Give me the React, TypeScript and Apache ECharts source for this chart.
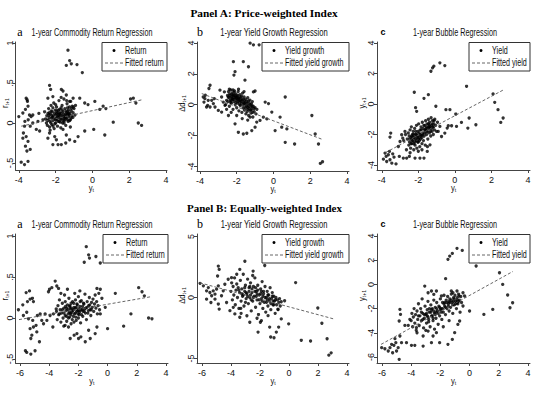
import React, { useEffect, useRef } from "react";
import * as echarts from "echarts";

// ---------- data ----------
const headerTexts = ["Panel A: Price-weighted Index", "Panel B: Equally-weighted Index"];
const panelLetters = ["a", "b", "c", "a", "b", "c"];
const panelTitles = [
  "1-year Commodity Return Regression",
  "1-year Yield Growth Regression",
  "1-year Bubble Regression",
  "1-year Commodity Return Regression",
  "1-year Yield Growth Regression",
  "1-year Bubble Regression",
];
const legendDots = ["Return", "Yield growth", "Yield", "Return", "Yield growth", "Yield"];
const legendLines = ["Fitted return", "Fitted yield growth", "Fitted yield", "Fitted return", "Fitted yield growth", "Fitted yield"];
const yNames = [["r", "t+1"], ["Δd", "t+1"], ["y", "t+1"], ["r", "t+1"], ["Δd", "t+1"], ["y", "t+1"]];

const xTicksA = [-4, -2, 0, 2, 4];
const xTicksB = [-6, -4, -2, 0, 2, 4];
const yTicksReturn = [-0.5, 0, 0.5, 1];
const yTicksA4 = [-4, -2, 0, 2, 4];
const yTicksBb = [-5, 0, 5];
const yTicksBc = [-6, -4, -2, 0, 2, 4];

const fitAa = [[-3.87, -0.04], [2.69, 0.29]];
const fitAb = [[-3.9, 0.72], [2.66, -2.25]];
const fitAc = [[-3.8, -3.19], [2.65, 0.92]];
const fitBa = [[-6.07, -0.02], [3.0, 0.26]];
const fitBb = [[-6.14, 1.2], [3.06, -1.75]];
const fitBc = [[-6.06, -4.96], [2.97, 1.07]];

const ptsAa = [
  [-1.33, 0.91], [-1.24, 0.78], [-1.15, 0.74], [-1.42, 0.72], [-0.84, 0.73], [-0.55, 0.63],
  [-4.0, 0.08], [-3.87, -0.49], [-3.69, -0.52], [-3.5, -0.48], [-3.6, 0.31], [-3.55, 0.29], [-3.5, 0.21], [-3.64, 0.17],
  [-3.78, 0.125], [-3.42, 0.1], [-3.33, 0.08], [-3.24, 0.1], [-3.69, -0.04], [-3.75, -0.125], [-3.6, -0.17], [-3.5, -0.23],
  [-3.64, -0.29], [-3.56, -0.35], [-3.38, -0.33], [-3.78, -0.19], [-3.38, -0.04], [-3.24, 0], [-3.49, 0.04], [-3.67, 0.02], [-3.53, 0.27],
  [-3.05, -0.08], [-2.87, -0.1], [-2.96, 0.02], [-2.69, 0.04], [-2.91, 0.12],
  [-2.33, 0.47], [-2.27, 0.42], [-2.42, 0.31], [-2.15, 0.33], [-1.69, 0.42], [-1.6, 0.4], [-1.42, 0.35], [-1.24, 0.27],
  [-1.05, 0.31], [-0.69, 0.31], [-0.42, 0.25], [-0.24, 0.23], [0.13, 0.27], [0.4, 0.17], [0.58, 0.21], [0.73, 0.18],
  [2.22, 0.31], [2.07, 0.3], [2.36, 0.25], [2.49, 0.0], [2.67, -0.03], [1.13, 0.01], [0.07, -0.08], [-0.42, -0.1], [0.67, -0.15],
  [-2.33, -0.125], [-2.05, -0.17], [-1.87, -0.27], [-1.96, -0.21], [-1.69, -0.27], [-1.45, -0.25], [-1.24, -0.21],
  [-0.96, -0.23], [-0.78, -0.17], [-2.15, -0.27], [-2.42, -0.19], [-1.42, -0.15],
  [-2.55, 0.05], [-2.5, 0.0], [-2.48, 0.09], [-2.45, -0.03], [-2.42, 0.12], [-2.4, 0.04], [-2.38, 0.18], [-2.35, 0.07],
  [-2.33, -0.05], [-2.3, 0.02], [-2.28, 0.11], [-2.25, 0.22], [-2.22, 0.06], [-2.2, -0.02], [-2.18, 0.14], [-2.15, 0.03],
  [-2.12, 0.09], [-2.1, 0.25], [-2.08, -0.07], [-2.05, 0.05], [-2.02, 0.16], [-2.0, 0.0], [-1.98, 0.1], [-1.95, 0.2],
  [-1.92, 0.04], [-1.9, -0.04], [-1.88, 0.13], [-1.85, 0.07], [-1.82, 0.28], [-1.8, 0.02], [-1.78, 0.17], [-1.75, 0.09],
  [-1.72, -0.06], [-1.7, 0.12], [-1.68, 0.05], [-1.65, 0.22], [-1.62, 0.0], [-1.6, 0.14], [-1.58, 0.08], [-1.55, 0.3],
  [-1.52, 0.03], [-1.5, 0.18], [-1.48, 0.1], [-1.45, -0.03], [-1.42, 0.13], [-1.4, 0.06], [-1.38, 0.24], [-1.35, 0.11],
  [-1.32, 0.02], [-1.3, 0.16], [-1.28, 0.08], [-1.25, 0.2], [-1.22, 0.12], [-1.2, 0.04], [-1.18, 0.27], [-1.15, 0.15],
  [-1.12, 0.09], [-1.1, 0.21], [-1.05, 0.13], [-1.0, 0.18], [-0.95, 0.1], [-0.92, 0.22], [-2.6, 0.14], [-2.0, 0.23],
  [-1.7, 0.32], [-1.4, 0.28], [-2.3, -0.09], [-1.6, -0.08], [-1.2, -0.05], [-1.95, 0.12], [-1.75, 0.01], [-1.55, 0.06],
  [-2.15, 0.19], [-1.85, 0.16], [-1.35, 0.19],
  [-2.44, 0.03], [-2.36, 0.1], [-2.26, 0.0], [-2.24, 0.15], [-2.16, 0.07], [-2.06, 0.12], [-2.04, -0.01], [-1.96, 0.06],
  [-1.94, 0.15], [-1.86, 0.02], [-1.84, 0.1], [-1.76, 0.13], [-1.74, 0.05], [-1.66, 0.09], [-1.64, 0.16], [-1.56, 0.11],
  [-1.54, 0.0], [-1.46, 0.07], [-1.44, 0.15], [-1.36, 0.04], [-1.34, 0.14], [-1.26, 0.1], [-1.24, 0.03], [-1.16, 0.06],
  [-1.14, 0.18], [-1.06, 0.07], [-1.04, 0.2], [-2.34, 0.13], [-2.14, -0.04], [-1.9, 0.08], [-1.7, 0.19], [-1.5, 0.05],
  [-1.3, 0.12], [-2.2, 0.09], [-2.0, 0.04], [-1.8, 0.11], [-1.6, 0.03], [-1.4, 0.1],
];

const ptsAb = [
  [-1.27, 3.99], [-1.09, 3.88], [-0.78, 3.88], [-1.36, 2.46], [-1.64, 2.79], [-2.18, 2.79], [-2.09, 2.14], [-2.15, 1.92],
  [-1.55, 1.59], [-1.09, 0.83], [-1.0, 0.89],
  [-3.82, 0.5], [-3.73, 0.39], [-3.64, -0.15], [-3.55, 0.28], [-3.45, 1.26], [-3.51, 1.05], [-3.36, 0.28], [-3.27, 0.07],
  [-3.58, -0.04], [-3.45, -0.15], [-3.18, -0.15], [-3.78, 0.17], [-3.71, 0.61], [-3.22, 0.39],
  [-2.91, 0.94], [-2.82, 0.5], [-2.73, 0.17], [-2.64, -0.04], [-3.0, -0.37], [-2.82, -0.48], [-2.55, 0.28], [-2.45, -0.7], [-2.67, 0.83],
  [-2.09, -1.24], [-1.91, -1.79], [-1.64, -1.9], [-1.45, -1.85], [-1.18, -1.68], [-1.0, -1.46], [-0.73, -1.02], [-0.55, -0.81],
  [-0.36, -0.92], [-0.45, 0.17], [-0.27, 0.07], [-0.09, -0.48], [0.09, -1.68], [0.36, -0.81], [0.45, -1.46], [0.64, 0.5],
  [0.73, -1.57], [0.64, -2.44], [1.15, -2.55], [2.09, -0.7], [2.27, -1.9], [2.45, -2.55], [2.55, -3.81], [2.67, -3.7],
  [-0.91, -1.13], [-1.27, -0.81],
  [-2.5, 0.6], [-2.48, 0.2], [-2.45, 0.85], [-2.42, 0.45], [-2.4, -0.1], [-2.38, 0.7], [-2.35, 0.3], [-2.32, 0.95],
  [-2.3, 0.5], [-2.28, 0.1], [-2.25, 0.75], [-2.22, 0.35], [-2.2, -0.3], [-2.18, 0.6], [-2.15, 0.2], [-2.12, 0.9],
  [-2.1, 0.45], [-2.08, 0.0], [-2.05, 0.7], [-2.02, 0.3], [-2.0, -0.2], [-1.98, 0.55], [-1.95, 0.1], [-1.92, 0.85],
  [-1.9, 0.4], [-1.88, -0.4], [-1.85, 0.25], [-1.82, 0.65], [-1.8, -0.05], [-1.78, 0.45], [-1.75, 0.1], [-1.72, -0.5],
  [-1.7, 0.3], [-1.68, 0.75], [-1.65, -0.2], [-1.62, 0.15], [-1.6, 0.5], [-1.58, -0.35], [-1.55, 0.05], [-1.52, 0.35],
  [-1.5, -0.6], [-1.48, -0.1], [-1.45, 0.2], [-1.42, -0.3], [-1.4, 0.45], [-1.38, -0.05], [-1.35, -0.7], [-1.32, 0.1],
  [-1.3, -0.4], [-1.28, 0.3], [-1.25, -0.15], [-1.22, -0.55], [-1.2, 0.05], [-1.18, -0.3], [-1.15, 0.2], [-1.12, -0.8],
  [-1.1, -0.1], [-1.05, -0.45], [-1.0, -0.2], [-0.95, -0.6], [-0.9, -0.3], [-2.6, 0.0], [-2.55, -0.3], [-2.3, -0.5],
  [-2.0, -0.7], [-1.7, -0.9], [-1.4, -1.0], [-2.2, 0.95], [-1.9, 1.0], [-1.6, 0.85], [-2.4, 1.0],
  [-2.46, 0.5], [-2.36, 0.6], [-2.34, 0.15], [-2.26, 0.4], [-2.24, 0.65], [-2.16, 0.35], [-2.14, 0.8], [-2.06, 0.5],
  [-2.04, 0.15], [-1.96, 0.35], [-1.94, 0.6], [-1.86, 0.45], [-1.84, 0.0], [-1.76, 0.2], [-1.74, 0.55], [-1.66, 0.35],
  [-1.64, 0.0], [-1.56, 0.25], [-1.54, -0.2], [-1.46, 0.1], [-1.44, -0.45], [-1.36, 0.25], [-1.34, -0.25], [-1.26, 0.0],
  [-1.24, -0.35], [-1.16, -0.1], [-1.14, -0.5], [-1.06, -0.25], [-2.2, 0.55], [-2.0, 0.45], [-1.8, 0.3], [-1.6, 0.1],
  [-1.4, -0.15], [-2.3, 0.25], [-2.1, 0.6], [-1.9, 0.2],
];

const ptsAc = [
  [-1.31, 2.15], [-1.22, 2.37], [-1.15, 2.48], [-0.82, 2.7], [-0.55, 2.52], [0.64, 1.16], [-2.22, 0.77], [-1.69, 0.37],
  [-1.45, 0.61], [-2.15, -0.24], [-2.09, -0.48], [-1.04, -0.15], [-0.49, -0.37], [-0.27, -0.37], [0.05, -0.66], [0.78, -0.92],
  [0.71, -1.58], [1.15, -1.36], [0.36, -1.21], [0.09, -1.47], [-0.18, -1.43], [-0.42, -1.58], [2.09, 0.66], [2.18, 0.11],
  [2.36, -0.37], [2.51, -1.21], [2.64, -0.92],
  [-3.91, -3.62], [-3.76, -3.44], [-3.64, -3.33], [-3.55, -3.66], [-3.45, -3.88], [-3.33, -3.49], [-3.73, -3.77], [-3.58, -3.11],
  [-3.4, -3.27], [-3.51, -1.91], [-3.55, -2.17], [-3.22, -3.93], [-3.82, -3.22],
  [-3.09, -2.79], [-3.0, -2.46], [-2.91, -2.02], [-2.82, -3.55], [-2.64, -3.55], [-2.49, -3.44], [-3.04, -3.44], [-2.73, -1.8], [-2.85, -2.24],
  [-2.18, -3.55], [-1.91, -3.55], [-1.69, -3.55], [-1.51, -3.11], [-1.36, -2.68],
  [-0.91, -1.8], [-0.73, -2.13], [-0.55, -1.91], [-0.82, -1.47], [-0.36, -1.43],
  [-2.6, -2.3], [-2.55, -1.9], [-2.52, -2.7], [-2.5, -2.1], [-2.48, -2.5], [-2.45, -1.7], [-2.42, -2.9], [-2.4, -2.2],
  [-2.38, -1.5], [-2.35, -2.6], [-2.32, -2.0], [-2.3, -2.4], [-2.28, -1.8], [-2.25, -3.0], [-2.22, -2.2], [-2.2, -1.6],
  [-2.18, -2.7], [-2.15, -2.0], [-2.12, -2.4], [-2.1, -1.4], [-2.08, -2.9], [-2.05, -2.1], [-2.02, -1.8], [-2.0, -2.5],
  [-1.98, -1.3], [-1.95, -2.2], [-1.92, -2.8], [-1.9, -1.7], [-1.88, -2.3], [-1.85, -1.5], [-1.82, -2.0], [-1.8, -2.6],
  [-1.78, -1.2], [-1.75, -1.9], [-1.72, -2.4], [-1.7, -1.4], [-1.68, -2.1], [-1.65, -1.7], [-1.62, -2.7], [-1.6, -1.1],
  [-1.58, -1.6], [-1.55, -2.0], [-1.52, -1.3], [-1.5, -1.8], [-1.48, -2.3], [-1.45, -1.0], [-1.42, -1.5], [-1.4, -1.9],
  [-1.38, -1.2], [-1.35, -1.6], [-1.32, -2.1], [-1.3, -0.9], [-1.28, -1.4], [-1.25, -1.8], [-1.22, -1.1], [-1.2, -1.5],
  [-1.18, -2.0], [-1.15, -1.3], [-1.12, -1.7], [-1.1, -1.0], [-1.05, -1.4], [-1.0, -1.8], [-0.95, -1.2], [-2.65, -3.0],
  [-2.45, -3.2], [-2.0, -3.1], [-1.8, -3.0], [-1.5, -2.8], [-2.8, -2.4], [-2.7, -2.0],
  [-2.46, -2.3], [-2.36, -2.1], [-2.34, -2.4], [-2.26, -2.0], [-2.24, -2.6], [-2.16, -2.3], [-2.14, -1.8], [-2.06, -2.2],
  [-2.04, -2.5], [-1.96, -1.9], [-1.94, -2.4], [-1.86, -2.1], [-1.84, -1.7], [-1.76, -2.0], [-1.74, -1.6], [-1.66, -1.9],
  [-1.64, -1.4], [-1.56, -1.8], [-1.54, -1.5], [-1.46, -1.6], [-1.44, -1.3], [-1.36, -1.5], [-1.34, -1.8], [-1.26, -1.6],
  [-1.24, -1.3], [-1.16, -1.5], [-1.14, -1.1], [-2.4, -2.6], [-2.2, -2.5], [-2.0, -2.3], [-1.8, -2.2], [-1.6, -1.7],
  [-1.4, -1.4], [-2.3, -2.2], [-2.1, -2.0], [-1.9, -2.0],
];

const ptsBa = [
  [-1.46, 0.87], [-1.3, 0.77], [-1.24, 0.73], [-0.8, 0.75], [-1.6, 0.68], [-0.5, 0.67],
  [-6.11, 0.1], [-5.81, 0.16], [-5.54, 0.07], [-5.58, 0.31], [-5.35, 0.33], [-5.31, 0.23], [-5.15, 0.24], [-5.49, 0.2],
  [-5.08, 0.2], [-5.63, -0.4], [-5.54, -0.42], [-5.26, -0.44], [-4.97, -0.4], [-5.26, -0.25], [-5.19, -0.21], [-5.31, -0.13],
  [-5.08, -0.11], [-4.9, -0.09], [-4.67, -0.29], [-4.85, -0.17], [-5.13, -0.03], [-4.81, 0.03], [-4.62, 0.05], [-5.42, -0.01], [-5.77, 0.03],
  [-4.39, -0.07], [-4.16, -0.03], [-4.05, 0.32], [-3.98, 0.35], [-3.82, 0.37], [-3.94, 0.03], [-3.71, 0.05], [-3.59, 0.45],
  [-3.48, 0.39], [-3.36, 0.36], [-3.52, 0.11], [-3.75, -0.11], [-4.28, 0.05], [-4.51, -0.03],
  [-2.91, -0.09], [-2.68, -0.11], [-2.56, -0.25], [-2.29, -0.21], [-2.1, -0.19], [-1.99, -0.25], [-1.83, -0.23], [-1.53, -0.29],
  [-1.19, -0.25], [-0.85, -0.19], [-0.73, -0.11], [-1.3, -0.15],
  [-0.73, 0.36], [-0.5, 0.35], [-0.39, 0.24], [0.53, 0.3], [0.0, -0.13], [1.6, 0.05], [1.1, -0.1], [2.13, 0.37],
  [2.36, 0.32], [2.52, 0.27], [2.81, 0.0], [3.04, -0.01], [-0.16, 0.13], [-0.5, 0.05],
  [-3.5, 0.08], [-3.45, -0.02], [-3.4, 0.15], [-3.35, 0.04], [-3.3, 0.22], [-3.25, 0.1], [-3.2, -0.05], [-3.15, 0.06],
  [-3.1, 0.18], [-3.05, 0.0], [-3.0, 0.12], [-2.95, 0.28], [-2.9, 0.03], [-2.85, 0.09], [-2.8, -0.04], [-2.75, 0.16],
  [-2.7, 0.05], [-2.65, 0.24], [-2.6, 0.01], [-2.55, 0.11], [-2.5, -0.07], [-2.45, 0.07], [-2.4, 0.2], [-2.35, 0.02],
  [-2.3, 0.13], [-2.25, 0.3], [-2.2, 0.06], [-2.15, -0.03], [-2.1, 0.17], [-2.05, 0.09], [-2.0, 0.26], [-1.95, 0.04],
  [-1.9, 0.14], [-1.85, -0.06], [-1.8, 0.21], [-1.75, 0.1], [-1.7, 0.02], [-1.65, 0.18], [-1.6, 0.08], [-1.55, 0.29],
  [-1.5, 0.12], [-1.45, -0.02], [-1.4, 0.2], [-1.35, 0.06], [-1.3, 0.15], [-1.25, 0.25], [-1.2, 0.1], [-1.15, 0.03],
  [-1.1, 0.19], [-1.05, 0.13], [-1.0, 0.23], [-0.95, 0.08], [-0.9, 0.17], [-0.85, 0.28], [-0.8, 0.12], [-0.75, 0.2],
  [-0.7, 0.05], [-0.65, 0.15], [-0.6, 0.3], [-0.55, 0.1], [-2.9, 0.2], [-2.6, 0.14], [-2.3, -0.05], [-2.0, 0.0],
  [-3.2, 0.3], [-3.0, -0.1], [-2.75, 0.35], [-2.5, 0.18], [-2.2, 0.22], [-1.9, 0.33],
  [-3.3, 0.05], [-3.1, 0.1], [-2.98, 0.06], [-2.88, 0.14], [-2.82, 0.02], [-2.72, 0.1], [-2.68, 0.0], [-2.62, 0.07],
  [-2.58, 0.15], [-2.52, 0.04], [-2.48, 0.12], [-2.42, -0.02], [-2.38, 0.09], [-2.32, 0.18], [-2.28, 0.05], [-2.22, 0.12],
  [-2.18, 0.01], [-2.12, 0.08], [-2.08, 0.16], [-2.02, 0.05], [-1.98, 0.11], [-1.92, 0.07], [-1.88, 0.2], [-1.82, 0.1],
  [-1.78, 0.04], [-1.72, 0.14], [-1.68, 0.08], [-1.62, 0.17], [-1.58, 0.11], [-1.52, 0.06], [-1.42, 0.13], [-1.32, 0.09],
  [-1.22, 0.16], [-1.12, 0.1], [-2.8, 0.12], [-2.55, 0.06], [-2.35, 0.1], [-2.15, 0.13], [-1.95, 0.09],
];

const ptsBb = [
  [-3.04, 2.97], [-1.67, 2.62], [-4.87, 2.57], [-4.81, 2.3], [-4.92, 1.76], [-3.39, 2.3], [-2.47, 2.16], [0.46, 1.22],
  [-6.13, 1.16], [-5.9, 0.95], [-5.68, 0.54], [-5.56, 0.81], [-5.45, 0.41], [-5.33, 0.14], [-5.22, 0.54], [-5.1, 0.27],
  [-4.99, 0.68], [-4.87, 0.95], [-5.68, -0.14], [-5.38, -0.41], [-4.87, -0.54], [-4.81, -0.95], [-5.1, -0.14], [-4.65, 0.14],
  [-4.53, 0.54], [-4.3, -0.41], [-4.42, 1.08], [-4.19, 1.49], [-3.96, 1.62], [-4.07, -1.08], [-3.84, -0.81], [-3.73, -1.35],
  [-3.39, -1.62], [-3.32, -0.89],
  [-2.7, -2.03], [-2.13, -2.84], [-1.97, -2.03], [-1.33, -2.43], [-1.26, -3.24], [-1.03, -3.3], [-0.87, -2.84], [-0.71, -2.43],
  [-0.53, -1.76], [-1.44, -1.49], [-0.02, -2.16], [-0.53, -0.35], [-0.3, -0.27], [-0.76, -0.95], [0.85, -3.51], [1.49, -3.57],
  [1.99, -0.86], [2.27, -2.11], [2.63, -3.38], [2.75, -4.73], [2.91, -4.54],
  [-4.0, 0.5], [-3.95, 1.2], [-3.9, -0.2], [-3.85, 0.9], [-3.8, 0.2], [-3.75, 1.6], [-3.7, -0.6], [-3.65, 0.6],
  [-3.6, 1.1], [-3.55, 0.0], [-3.5, 0.8], [-3.45, -0.9], [-3.4, 0.4], [-3.35, 1.4], [-3.3, -0.3], [-3.25, 0.7],
  [-3.2, 0.1], [-3.15, 1.9], [-3.1, -0.7], [-3.05, 0.5], [-3.0, 1.0], [-2.95, -0.1], [-2.9, 0.3], [-2.85, 1.5],
  [-2.8, -0.5], [-2.75, 0.8], [-2.7, 0.0], [-2.65, 1.2], [-2.6, -1.1], [-2.55, 0.4], [-2.5, -0.3], [-2.45, 0.9],
  [-2.4, 0.1], [-2.35, 1.6], [-2.3, -0.8], [-2.25, 0.5], [-2.2, -0.2], [-2.15, 1.0], [-2.1, -1.4], [-2.05, 0.2],
  [-2.0, -0.5], [-1.95, 0.7], [-1.9, -0.1], [-1.85, 1.3], [-1.8, -0.9], [-1.75, 0.3], [-1.7, -0.4], [-1.65, 0.9],
  [-1.6, -1.2], [-1.55, 0.0], [-1.5, 0.5], [-1.45, -0.7], [-1.4, 0.2], [-1.35, -0.3], [-1.3, 0.8], [-1.25, -1.0],
  [-1.2, -0.1], [-1.15, 0.4], [-1.1, -0.6], [-1.05, 0.1], [-1.0, -0.3], [-0.95, -1.3], [-0.9, 0.0], [-0.85, -0.6],
  [-0.8, -0.2], [-0.75, -1.0], [-0.7, -0.4], [-0.65, -0.1], [-0.6, -0.7], [-3.3, -1.3], [-2.9, -1.5], [-2.2, -1.7],
  [-1.9, -1.9], [-3.6, 1.9], [-2.5, 1.8],
  [-3.45, 0.6], [-3.25, 0.3], [-3.05, 0.8], [-2.95, 0.4], [-2.85, 0.1], [-2.75, 0.5], [-2.65, 0.2], [-2.55, 0.7],
  [-2.45, 0.0], [-2.35, 0.5], [-2.25, 0.1], [-2.15, 0.6], [-2.05, -0.2], [-1.95, 0.3], [-1.85, -0.3], [-1.75, 0.5],
  [-1.65, 0.0], [-1.55, -0.4], [-1.45, 0.2], [-1.35, -0.1], [-1.25, -0.5], [-1.15, 0.1], [-1.05, -0.6], [-0.95, -0.2],
  [-3.15, 0.2], [-2.7, 0.9], [-2.3, 0.8], [-1.9, 0.5], [-1.5, -0.2], [-1.1, -0.3], [-3.0, -0.4], [-2.6, -0.2],
  [-2.2, 0.3], [-1.8, 0.1],
];

const ptsBc = [
  [-1.48, 2.07], [-1.36, 2.34], [-1.18, 2.56], [-0.86, 2.98], [-0.5, 2.81], [0.45, 1.52], [-1.64, 0.47], [2.05, 0.96],
  [2.27, 0.0], [2.61, -0.88], [2.95, -1.52], [2.77, -1.93], [1.59, -2.07], [0.98, -2.48], [0.0, -2.2],
  [-6.02, -5.23], [-5.8, -5.32], [-5.57, -5.51], [-5.45, -5.23], [-5.27, -5.65], [-5.18, -5.04], [-5.05, -4.82], [-4.89, -5.23],
  [-4.82, -6.2], [-5.0, -5.51], [-5.11, -4.49], [-4.77, -4.27], [-4.82, -3.03], [-4.77, -2.07], [-4.73, -2.48], [-4.66, -4.82], [-5.34, -4.96],
  [-4.32, -4.82], [-3.98, -5.04], [-3.75, -5.04], [-3.18, -5.1], [-2.61, -4.82], [-2.05, -4.82], [-1.48, -4.96], [-1.18, -4.55],
  [-1.02, -3.99], [-0.8, -3.31], [-0.68, -3.03], [-2.5, -4.27], [-2.27, -3.99], [-2.84, -3.86], [-3.18, -4.27], [-3.64, -3.58],
  [-4.09, -2.89], [-4.2, -3.39], [-4.43, -3.39],
  [-3.07, -0.14], [-2.84, -0.69], [-2.61, -0.55], [-2.45, -0.83], [-2.27, -0.55], [-1.93, -0.96], [-1.25, -0.55], [-1.14, -0.69],
  [-0.86, -0.55], [-0.73, -0.96], [-0.45, -0.69], [-0.34, -0.96], [-0.86, -1.52], [-0.45, -1.79],
  [-4.0, -3.0], [-3.95, -2.4], [-3.9, -3.5], [-3.85, -2.7], [-3.8, -2.0], [-3.75, -3.2], [-3.7, -2.5], [-3.65, -3.8],
  [-3.6, -2.2], [-3.55, -2.9], [-3.5, -1.6], [-3.45, -3.4], [-3.4, -2.6], [-3.35, -2.0], [-3.3, -3.0], [-3.25, -1.2],
  [-3.2, -2.4], [-3.15, -3.6], [-3.1, -2.8], [-3.05, -1.8], [-3.0, -2.5], [-2.95, -3.2], [-2.9, -2.1], [-2.85, -1.4],
  [-2.8, -2.9], [-2.75, -2.3], [-2.7, -3.5], [-2.65, -1.7], [-2.6, -2.6], [-2.55, -2.0], [-2.5, -3.0], [-2.45, -1.3],
  [-2.4, -2.4], [-2.35, -1.9], [-2.3, -2.8], [-2.25, -1.5], [-2.2, -2.2], [-2.15, -3.3], [-2.1, -1.8], [-2.05, -2.6],
  [-2.0, -1.2], [-1.95, -2.0], [-1.9, -2.9], [-1.85, -1.5], [-1.8, -2.3], [-1.75, -0.9], [-1.7, -1.8], [-1.65, -2.5],
  [-1.6, -1.3], [-1.55, -2.0], [-1.5, -1.0], [-1.45, -1.6], [-1.4, -2.2], [-1.35, -1.2], [-1.3, -1.9], [-1.25, -0.8],
  [-1.2, -1.5], [-1.15, -2.4], [-1.1, -1.1], [-1.05, -1.7], [-1.0, -0.9], [-0.95, -1.4], [-0.9, -2.0], [-0.85, -1.1],
  [-0.8, -1.6], [-0.75, -0.8], [-0.7, -1.3], [-0.65, -2.3], [-0.6, -1.0], [-0.55, -1.5], [-3.6, -4.0], [-3.0, -3.8],
  [-2.4, -3.7], [-1.8, -3.5], [-1.4, -3.0],
  [-3.5, -2.6], [-3.3, -2.3], [-3.1, -2.5], [-2.95, -2.4], [-2.85, -2.7], [-2.75, -2.0], [-2.65, -2.3], [-2.55, -2.6],
  [-2.45, -2.2], [-2.35, -2.5], [-2.25, -2.0], [-2.15, -2.4], [-2.05, -1.9], [-1.95, -2.3], [-1.85, -2.0], [-1.75, -1.6],
  [-1.65, -1.9], [-1.55, -1.5], [-1.45, -1.8], [-1.35, -1.5], [-1.25, -1.3], [-1.15, -1.7], [-1.05, -1.2], [-0.95, -1.6],
  [-0.85, -1.3], [-0.75, -1.4], [-2.9, -2.6], [-2.6, -2.1], [-2.3, -2.3], [-2.0, -2.1], [-1.7, -1.5], [-1.4, -1.4],
  [-1.1, -1.4], [-3.2, -2.9], [-2.8, -3.1], [-2.5, -2.8],
];

// ---------- layout / style ----------
const SANS = '"Liberation Sans", Arial, sans-serif';
const SERIF = '"Liberation Serif", "Times New Roman", serif';

type Panel = {
  left: number; top: number; right: number; bottom: number;
  xMin: number; xMax: number; yMin: number; yMax: number;
  xTicks: number[]; yTicks: number[]; pts: number[][]; fit: number[][];
  legendW: number; titleX: number; titleW: number; letterX: number;
};

const panels: Panel[] = [
  { left: 15.5, top: 42, right: 167, bottom: 170, xMin: -4.18, xMax: 4.05, yMin: -0.5875, yMax: 1.0125, xTicks: xTicksA, yTicks: yTicksReturn, pts: ptsAa, fit: fitAa, legendW: 65, titleX: 92, titleW: 121, letterX: 20 },
  { left: 197, top: 42, right: 349, bottom: 171, xMin: -4.16, xMax: 4.11, yMin: -4.3, yMax: 4.065, xTicks: xTicksA, yTicks: yTicksA4, pts: ptsAb, fit: fitAb, legendW: 87, titleX: 274, titleW: 108, letterX: 200 },
  { left: 377, top: 42, right: 530, bottom: 170, xMin: -4.26, xMax: 4.11, yMin: -4.33, yMax: 4.066, xTicks: xTicksA, yTicks: yTicksA4, pts: ptsAc, fit: fitAc, legendW: 61, titleX: 455, titleW: 84, letterX: 383 },
  { left: 15.5, top: 234, right: 168, bottom: 363, xMin: -6.31, xMax: 4.14, yMin: -0.549, yMax: 1.024, xTicks: xTicksB, yTicks: yTicksReturn, pts: ptsBa, fit: fitBa, legendW: 65, titleX: 92, titleW: 121, letterX: 20 },
  { left: 197, top: 234, right: 349, bottom: 363, xMin: -6.34, xMax: 4.14, yMin: -5.37, yMax: 5.2, xTicks: xTicksB, yTicks: yTicksBb, pts: ptsBb, fit: fitBb, legendW: 87, titleX: 274, titleW: 107, letterX: 200 },
  { left: 377, top: 234, right: 530, bottom: 363, xMin: -6.34, xMax: 4.14, yMin: -6.5, yMax: 4.165, xTicks: xTicksB, yTicks: yTicksBc, pts: ptsBc, fit: fitBc, legendW: 61, titleX: 455, titleW: 84, letterX: 383 },
];
const headerLayout = [{ x: 264, y: 13, w: 148 }, { x: 264.5, y: 208, w: 155 }];

const fmt = (v: number) => {
  if (v === 0) return "0";
  const s = String(Math.abs(v)).replace(/^0\./, ".");
  return (v < 0 ? "-" : "") + s;
};

const measure = (text: string, font: string) => {
  const ctx = document.createElement("canvas").getContext("2d");
  if (!ctx) return text.length * 5;
  ctx.font = font;
  return ctx.measureText(text).width;
};

const AXIS_COLOR = "#444";

export default function App() {
  const ref = useRef<HTMLDivElement>(null);
  useEffect(() => {
    const chart = echarts.init(ref.current!, null, { renderer: "svg" });
    const grid: any[] = [];
    const xAxis: any[] = [];
    const yAxis: any[] = [];
    const series: any[] = [];
    const graphic: any[] = [];

    const titleFont = `10px ${SANS}`;
    const condense = 121 / measure(panelTitles[0], titleFont);
    const legendFont = `10px ${SANS}`;

    headerTexts.forEach((t, i) => {
      const hf = `bold 11px ${SERIF}`;
      const hl = headerLayout[i];
      graphic.push({
        type: "text", x: hl.x, y: hl.y, scaleX: hl.w / measure(t, hf),
        style: { text: t, font: hf, fill: "#000", align: "center", verticalAlign: "middle" },
      });
    });

    panels.forEach((p, i) => {
      grid.push({ left: p.left, top: p.top, width: p.right - p.left, height: p.bottom - p.top, containLabel: false });
      xAxis.push({
        gridIndex: i, type: "value", min: p.xMin, max: p.xMax,
        axisLine: { show: true, onZero: false, lineStyle: { color: AXIS_COLOR, width: 1 } },
        axisTick: { show: true, length: 3, lineStyle: { color: AXIS_COLOR }, customValues: p.xTicks },
        axisLabel: { customValues: p.xTicks, formatter: fmt, fontSize: 9, fontFamily: SANS, color: "#111", margin: 5 },
        splitLine: { show: false },
      });
      yAxis.push({
        gridIndex: i, type: "value", min: p.yMin, max: p.yMax,
        axisLine: { show: true, onZero: false, lineStyle: { color: AXIS_COLOR, width: 1 } },
        axisTick: { show: true, length: 3, lineStyle: { color: AXIS_COLOR }, customValues: p.yTicks },
        axisLabel: { customValues: p.yTicks, formatter: fmt, fontSize: 9, fontFamily: SANS, color: "#111", rotate: 90, margin: 1.5 },
        splitLine: { show: false },
      });
      series.push({
        type: "scatter", name: legendDots[i], xAxisIndex: i, yAxisIndex: i, data: p.pts,
        symbol: "circle", symbolSize: 3.3, itemStyle: { color: "#000" }, silent: true,
      });
      series.push({
        type: "line", name: legendLines[i], xAxisIndex: i, yAxisIndex: i, data: p.fit,
        showSymbol: false, symbol: "none", lineStyle: { color: "#555", width: 0.9, type: [3, 2] }, silent: true,
      });

      const cy = (p.top + p.bottom) / 2;
      const cx = (p.left + p.right) / 2;
      const titleY = p.top - 9;
      // letter
      const isC = panelLetters[i] === "c";
      graphic.push({
        type: "text", x: p.letterX, y: titleY - 1,
        style: { text: panelLetters[i], font: isC ? `bold 9px ${SANS}` : `12px ${SERIF}`, fill: "#000", align: "center", verticalAlign: "middle" },
      });
      // title (condensed)
      graphic.push({
        type: "text", x: p.titleX, y: titleY, scaleX: p.titleW / measure(panelTitles[i], titleFont),
        style: { text: panelTitles[i], font: titleFont, fill: "#111", align: "center", verticalAlign: "middle" },
      });
      // y name (rotated)
      graphic.push({
        type: "text", x: Math.max(5, p.left - 15), y: cy - 3, rotation: Math.PI / 2, scaleX: 0.85,
        style: {
          text: `{m|${yNames[i][0]}}{s|${yNames[i][1]}}`, align: "center", verticalAlign: "middle", fill: "#111",
          rich: { m: { fontSize: 9, fontFamily: SANS, fill: "#111" }, s: { fontSize: 6, fontFamily: SANS, fill: "#111", padding: [4, 0, 0, 0] } },
        },
      });
      // x name
      graphic.push({
        type: "text", x: cx, y: p.bottom + 18, scaleX: 0.85,
        style: {
          text: "{m|y}{s|t}", align: "center", verticalAlign: "middle", fill: "#111",
          rich: { m: { fontSize: 9, fontFamily: SANS, fill: "#111" }, s: { fontSize: 6, fontFamily: SANS, fill: "#111", padding: [3, 0, 0, 0] } },
        },
      });
      // legend
      const lx = p.right - p.legendW;
      const ly = p.top + 0.5;
      graphic.push({ type: "rect", shape: { x: lx, y: ly, width: p.legendW, height: 28.5 }, style: { fill: "#fff", stroke: "#333", lineWidth: 1 } });
      graphic.push({ type: "circle", shape: { cx: lx + 12, cy: ly + 8, r: 1.5 }, style: { fill: "#000" } });
      graphic.push({ type: "text", x: lx + 23, y: ly + 8, scaleX: condense, style: { text: legendDots[i], font: legendFont, fill: "#111", verticalAlign: "middle" } });
      graphic.push({ type: "line", shape: { x1: lx + 3, y1: ly + 20.5, x2: lx + 21, y2: ly + 20.5 }, style: { stroke: "#555", lineWidth: 0.9, lineDash: [3, 2] } });
      graphic.push({ type: "text", x: lx + 23, y: ly + 20.5, scaleX: condense, style: { text: legendLines[i], font: legendFont, fill: "#111", verticalAlign: "middle" } });
    });

    chart.setOption({
      animation: false,
      backgroundColor: "#fff",
      grid, xAxis, yAxis, series, graphic,
    });
    return () => chart.dispose();
  }, []);
  return <div ref={ref} style={{ position: "fixed", left: 0, top: 0, width: 554, height: 396 }} />;
}
